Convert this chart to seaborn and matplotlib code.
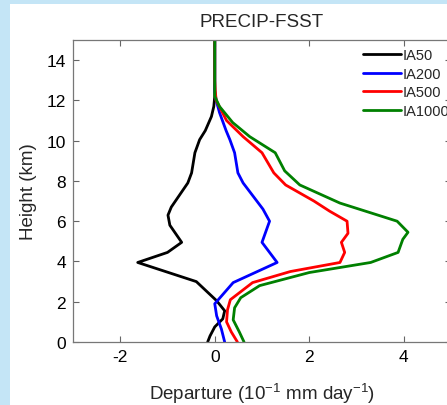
import numpy as np
import pandas as pd
import matplotlib
matplotlib.use("Agg")
import matplotlib.pyplot as plt
from matplotlib.patches import Rectangle
import seaborn as sns

# ---- data (height in km, departure in 10^-1 mm/day) ----
h_ia50 = [0, 0.3, 0.75, 1.15, 1.55, 2.05, 3.0, 3.95, 4.45, 4.95, 5.8, 6.3, 6.7, 7.9, 8.4, 9.4, 10.05, 10.5, 11.2, 11.7, 12.2, 13, 14, 15]
x_ia50 = [-0.15, -0.1, 0.0, 0.17, 0.21, 0.04, -0.39, -1.63, -1.0, -0.7, -0.95, -0.99, -0.92, -0.57, -0.49, -0.42, -0.32, -0.2, -0.07, -0.02, 0, 0, 0, 0]

h_ia200 = [0, 0.65, 1.3, 1.9, 2.95, 3.95, 4.95, 6.0, 6.6, 7.9, 8.4, 9.4, 10.05, 10.5, 11.4, 12.0, 12.5, 13, 14, 15]
x_ia200 = [0.21, 0.14, 0.04, 0.0, 0.39, 1.32, 1.0, 1.16, 1.02, 0.6, 0.49, 0.42, 0.32, 0.24, 0.1, 0.03, 0.0, 0, 0, 0]

h_ia500 = [0, 0.5, 1.0, 1.6, 2.1, 2.95, 3.5, 3.95, 4.45, 4.95, 5.4, 6.0, 6.5, 7.0, 7.8, 8.4, 9.4, 10.2, 11.0, 12.0, 12.5, 13, 14, 15]
x_ia500 = [0.48, 0.35, 0.25, 0.27, 0.33, 0.8, 1.6, 2.65, 2.75, 2.68, 2.82, 2.8, 2.43, 2.1, 1.5, 1.25, 1.0, 0.6, 0.25, 0.03, 0.01, 0, 0, 0]

h_ia1000 = [0, 0.5, 1.1, 1.7, 2.2, 2.8, 3.45, 3.95, 4.45, 5.1, 5.45, 6.0, 6.9, 7.8, 8.5, 9.4, 10.2, 10.9, 11.7, 12.2, 13, 14, 15]
x_ia1000 = [0.62, 0.52, 0.39, 0.42, 0.55, 0.95, 2.0, 3.3, 3.88, 3.98, 4.09, 3.86, 2.65, 1.8, 1.48, 1.28, 0.74, 0.38, 0.1, 0.0, 0, 0, 0]

series_names = ["IA50", "IA200", "IA500", "IA1000"]
series_colors = ["#000000", "#0000ff", "#ff0000", "#008000"]
xticks = [-2, 0, 2, 4]
yticks = [0, 2, 4, 6, 8, 10, 12, 14]

frames = []
for name, hh, xx in zip(series_names,
                        [h_ia50, h_ia200, h_ia500, h_ia1000],
                        [x_ia50, x_ia200, x_ia500, x_ia1000]):
    frames.append(pd.DataFrame({"height": hh, "departure": xx, "run": name}))
df = pd.concat(frames, ignore_index=True)

sns.set_theme(style="white")
plt.rcParams["font.family"] = ["Liberation Sans", "DejaVu Sans"]

W, H = 447, 406
fig = plt.figure(figsize=(W / 100, H / 100), dpi=100)
fig.patch.set_facecolor("#c4e5f6")
fig.patches.append(Rectangle((10 / W, 0), 1, 1 - 5 / H, transform=fig.transFigure,
                             facecolor="white", edgecolor="none", zorder=-10))

ax = fig.add_axes([73 / W, (H - 343) / H, (451 - 73) / W, (343 - 41) / H])
ax.set_facecolor("white")

sns.lineplot(data=df, x="departure", y="height", hue="run", hue_order=series_names,
             palette=series_colors, orient="y", sort=False, estimator=None,
             linewidth=2.0, ax=ax, legend=True)

ax.set_xlim(-3, 5)
ax.set_ylim(0, 15)
ax.set_xticks(xticks)
ax.set_yticks(yticks)
ax.set_xticklabels([str(t) for t in xticks])
ax.set_yticklabels([str(t) for t in yticks])
ax.tick_params(direction="in", length=4, width=0.8, color="#666666",
               labelsize=12.5, labelcolor="black", top=True, right=True,
               bottom=True, left=True, pad=5)
for s in ax.spines.values():
    s.set_color("#777777")
    s.set_linewidth(0.9)

ax.set_title("PRECIP-FSST", fontsize=13.5, pad=10)
ax.set_xlabel("Departure (10$^{\\mathregular{-1}}$ mm day$^{\\mathregular{-1}}$)", fontsize=13.5, labelpad=12)
ax.set_ylabel("Height (km)", fontsize=13.5, labelpad=7)

leg = ax.legend(loc="upper left", bbox_to_anchor=(363 / W, 1 - 49 / H),
                bbox_transform=fig.transFigure, frameon=False, fontsize=10.5,
                handlelength=2.6, handletextpad=0.1, labelspacing=0.32,
                borderpad=0, borderaxespad=0)
for line in leg.get_lines():
    line.set_linewidth(2.0)

fig.savefig("out.png", dpi=100, facecolor=fig.get_facecolor())
